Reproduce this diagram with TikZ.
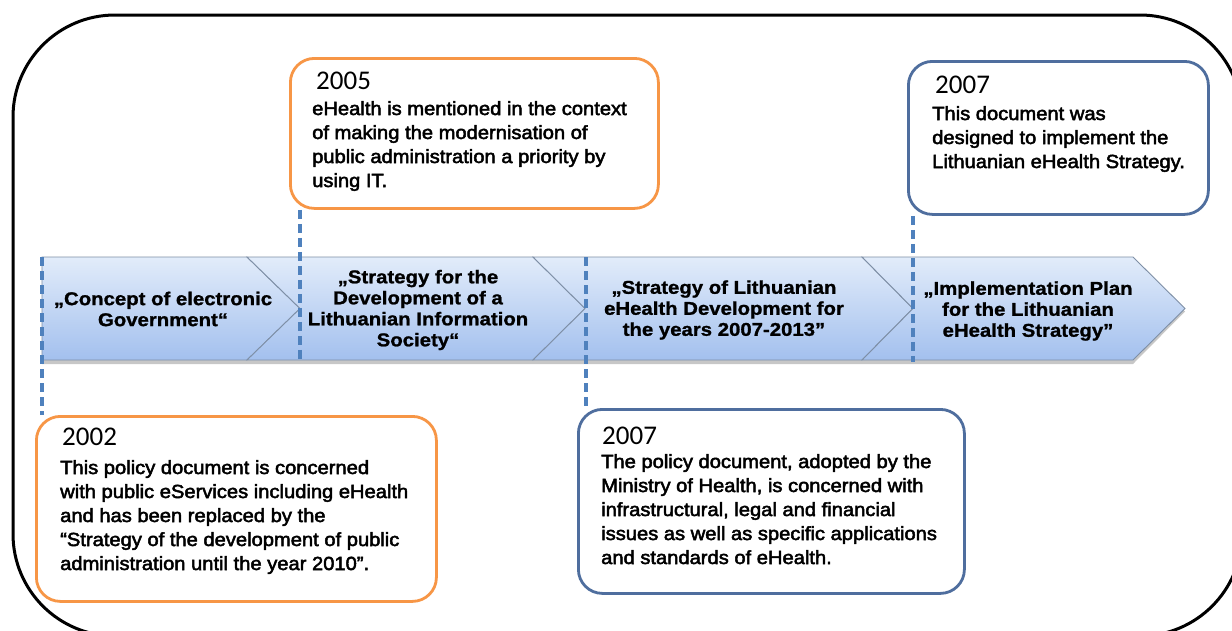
\documentclass[tikz,border=0pt]{standalone}
\usepackage{fontspec}
\setmainfont{Liberation Sans}
\newfontfamily\yearfont{Carlito}
\newfontfamily\bodyfont{Liberation Sans}[FakeBold=2.6,FakeStretch=1.06]
\newfontfamily\labfont{Liberation Sans}[FakeStretch=1.1,FakeBold=1.2]
\usetikzlibrary{shadows}
\definecolor{boxorange}{HTML}{F79646}
\definecolor{boxblue}{HTML}{4F6E9E}
\definecolor{dashblue}{HTML}{4F81BD}
\definecolor{chevtop}{HTML}{E2ECFA}
\definecolor{chevbot}{HTML}{A3C0EE}
\definecolor{chevline}{HTML}{7E8FA6}
\newcommand\blines[1]{\begin{tabular}[t]{@{}l@{}}#1\end{tabular}}
\begin{document}
\begin{tikzpicture}[x=1pt,y=-1pt,
  chev/.style={draw=chevline, line width=0.9pt, top color=chevtop, bottom color=chevbot},
  lab/.style={align=center, inner sep=0pt, font=\labfont\bfseries\fontsize{18.5}{21}\selectfont},
  obox/.style={draw=boxorange, line width=2.8pt, rounded corners=24pt, fill=white, anchor=north west, inner sep=0pt},
  bbox/.style={draw=boxblue, line width=2.8pt, rounded corners=24pt, fill=white, anchor=north west, inner sep=0pt},
  conn/.style={draw=dashblue, line width=3.4pt, dash pattern=on 9pt off 5pt},
  yr/.style={anchor=base west, inner sep=0pt, font=\yearfont\fontsize{27}{27}\selectfont},
  body/.style={anchor=base west, inner sep=0pt, font=\bodyfont\fontsize{19}{24}\selectfont}]
\useasboundingbox (0,0) rectangle (1232,630);
\clip (0,0) rectangle (1232,630);
\fill[white] (0,0) rectangle (1232,630);
% outer frame
\draw[line width=3pt, rounded corners=102pt] (13,15) rectangle (1242,636);
% band shadow
\fill[black, opacity=0.22] (42,260) -- (1133,260) -- (1185,311.5) -- (1133,364) -- (42,364) -- cycle;
% chevrons
\path[chev] (42,257) -- (247,257) -- (300,308.5) -- (247,360) -- (42,360) -- cycle;
\path[chev] (247,257) -- (533,257) -- (585,308.5) -- (533,360) -- (247,360) -- (300,308.5) -- cycle;
\path[chev] (533,257) -- (862,257) -- (913,308.5) -- (862,360) -- (533,360) -- (585,308.5) -- cycle;
\path[chev] (862,257) -- (1133,257) -- (1185,308.5) -- (1133,360) -- (862,360) -- (913,308.5) -- cycle;
% chevron labels
\node[lab] (l1) at (163,309) {„Concept of electronic\\Government“};
\node[lab] (l2) at (418,310) {„Strategy for the\\Development of a\\Lithuanian Information\\Society“};
\node[lab] (l3) at (724,310) {„Strategy of Lithuanian\\eHealth Development for\\the years 2007-2013”};
\node[lab] (l4) at (1028,311) {„Implementation Plan\\for the Lithuanian\\eHealth Strategy”};
% boxes
\node[obox, minimum width=368pt, minimum height=150pt] (b2005) at (289,57) {};
\node[obox, minimum width=400pt, minimum height=185pt] (b2002) at (35,415) {};
\node[bbox, minimum width=300pt, minimum height=153pt] (b2007a) at (907,60) {};
\node[bbox, minimum width=386pt, minimum height=184pt] (b2007b) at (577,408) {};
% dashed connectors
\coordinate (d1) at (42,257);
\coordinate (d2) at (300,362);
\coordinate (d3) at (586,257);
\coordinate (d4) at (913,362);
\draw[conn] (d1) -- (d1 |- b2002.north);
\draw[conn] (d2 |- b2005.south) -- (d2);
\draw[conn] (d3) -- (d3 |- b2007b.north);
\draw[conn] (d4 |- b2007a.south) -- (d4);
% texts
\node[yr] (y2005) at (316,89) {2005};
\node[body] (t2005) at (312,115) {\blines{eHealth is mentioned in the context\\of making the modernisation of\\public administration a priority by\\using IT.}};
\node[yr] (y2002) at (62,445) {2002};
\node[body] (t2002) at (60,474) {\blines{This policy document is concerned\\with public eServices including eHealth\\and has been replaced by the\\“Strategy of the development of public\\administration until the year 2010”.}};
\node[yr] (y2007a) at (935,93) {2007};
\node[body] (t2007a) at (932,120) {\blines{This document was\\designed to implement the\\Lithuanian eHealth Strategy.}};
\node[yr] (y2007b) at (602,444) {2007};
\node[body] (t2007b) at (601,468) {\blines{The policy document, adopted by the\\Ministry of Health, is concerned with\\infrastructural, legal and financial\\issues as well as specific applications\\and standards of eHealth.}};
\end{tikzpicture}
\end{document}
